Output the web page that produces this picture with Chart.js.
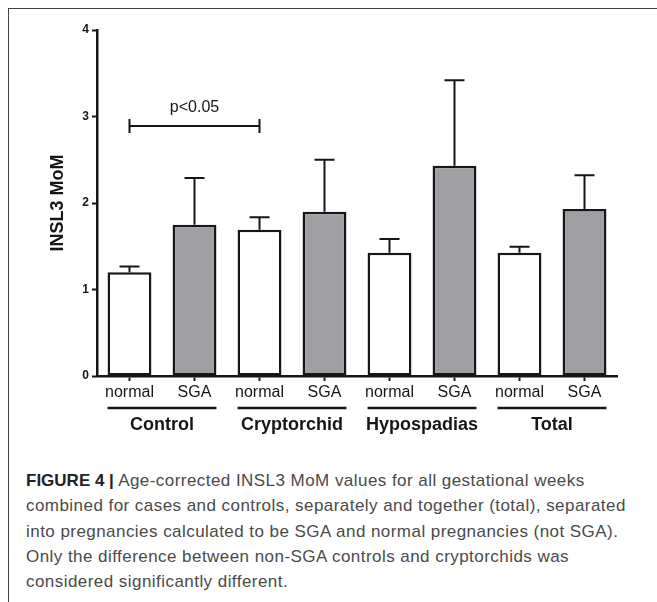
<!DOCTYPE html>
<html>
<head>
<meta charset="utf-8">
<script src="https://cdn.jsdelivr.net/npm/chart.js@4.4.0/dist/chart.umd.min.js"></script>
<style>
  html, body { margin: 0; padding: 0; background: #fff; }
  body { width: 657px; height: 602px; position: relative; overflow: hidden; font-family: "Liberation Sans", Arial, sans-serif; }
  #frameTop { position: absolute; left: 8px; top: 8px; width: 649px; height: 0; border-top: 1.5px solid #444; }
  #frameLeft { position: absolute; left: 8px; top: 8px; width: 0; height: 594px; border-left: 1.5px solid #444; }
  #wrap { position: absolute; left: 0; top: 0; width: 657px; height: 460px; }
  #caption { position: absolute; left: 26px; top: 468px; font-size: 17px; line-height: 25.25px; color: #4a4a4a; white-space: nowrap; letter-spacing: 0.45px; }
  #caption b { color: #222; letter-spacing: 0; }
</style>
</head>
<body>
<div id="frameTop"></div>
<div id="frameLeft"></div>
<div id="wrap"><canvas id="c" width="657" height="460"></canvas></div>
<div id="caption"><b>FIGURE 4 |</b> Age-corrected INSL3 MoM values for all gestational weeks<br>combined for cases and controls, separately and together (total), separated<br>into pregnancies calculated to be SGA and normal pregnancies (not SGA).<br>Only the difference between non-SGA controls and cryptorchids was<br>considered significantly different.</div>
<script>
// ---- data ----
const categories = ['normal', 'SGA', 'normal', 'SGA', 'normal', 'SGA', 'normal', 'SGA'];
const groups = ['Control', 'Cryptorchid', 'Hypospadias', 'Total'];
const means = [1.20, 1.75, 1.69, 1.90, 1.425, 2.43, 1.425, 1.93];
const sem = [0.065, 0.54, 0.145, 0.60, 0.16, 0.99, 0.07, 0.39];
const yTicks = [0, 1, 2, 3, 4];
const yTitle = 'INSL3 MoM';
const sigPair = [0, 2];
const sigLevel = 2.89;
const sigLabel = 'p<0.05';

const FONT = '"Liberation Sans", Arial, sans-serif';
const INK = '#161616';
const GRAY = '#a0a0a4';

const errorBars = {
  id: 'errorBars',
  afterDatasetsDraw(chart) {
    const ctx = chart.ctx, y = chart.scales.y;
    const meta = chart.getDatasetMeta(0);
    ctx.save();
    ctx.strokeStyle = INK;
    ctx.lineWidth = 2;
    meta.data.forEach((bar, i) => {
      const top = y.getPixelForValue(means[i] + sem[i]);
      const base = y.getPixelForValue(means[i]);
      ctx.beginPath();
      ctx.moveTo(bar.x, base);
      ctx.lineTo(bar.x, top);
      ctx.moveTo(bar.x - 10, top);
      ctx.lineTo(bar.x + 10, top);
      ctx.stroke();
    });
    // significance bracket
    const x1 = chart.scales.x.getPixelForValue(sigPair[0]);
    const x2 = chart.scales.x.getPixelForValue(sigPair[1]);
    const yb = y.getPixelForValue(sigLevel);
    ctx.beginPath();
    ctx.moveTo(x1, yb); ctx.lineTo(x2, yb);
    ctx.moveTo(x1, yb - 7); ctx.lineTo(x1, yb + 7);
    ctx.moveTo(x2, yb - 7); ctx.lineTo(x2, yb + 7);
    ctx.stroke();
    ctx.fillStyle = INK;
    ctx.font = '16px ' + FONT;
    ctx.textAlign = 'center';
    ctx.textBaseline = 'alphabetic';
    ctx.fillText(sigLabel, (x1 + x2) / 2, yb - 14);
    ctx.restore();
  }
};

const groupLabels = {
  id: 'groupLabels',
  afterDraw(chart) {
    const ctx = chart.ctx;
    const meta = chart.getDatasetMeta(0);
    ctx.save();
    ctx.strokeStyle = INK;
    ctx.fillStyle = INK;
    ctx.lineWidth = 2.5;
    ctx.font = 'bold 18px ' + FONT;
    ctx.textAlign = 'center';
    ctx.textBaseline = 'alphabetic';
    groups.forEach((g, k) => {
      const b1 = meta.data[2 * k], b2 = meta.data[2 * k + 1];
      const l = b1.x - b1.width / 2, r = b2.x + b2.width / 2;
      ctx.beginPath();
      ctx.moveTo(l, 408);
      ctx.lineTo(r, 408);
      ctx.stroke();
      ctx.fillText(g, (b1.x + b2.x) / 2, 429.5);
    });
    ctx.restore();
  }
};

new Chart(document.getElementById('c'), {
  type: 'bar',
  data: {
    labels: categories,
    datasets: [{
      data: means,
      backgroundColor: categories.map(c => c === 'SGA' ? GRAY : '#ffffff'),
      borderColor: INK,
      borderWidth: 2.5,
      borderSkipped: false,
      barPercentage: 0.675,
      categoryPercentage: 1.0
    }]
  },
  options: {
    responsive: false,
    animation: false,
    devicePixelRatio: 1,
    layout: { padding: { top: 30, right: 40, left: 0, bottom: 0 } },
    plugins: { legend: { display: false }, tooltip: { enabled: false } },
    scales: {
      x: {
        offset: true,
        afterFit(s) { s.height = 84; },
        grid: { offset: false, drawOnChartArea: false, drawTicks: true, tickLength: 5, tickWidth: 2, tickColor: INK },
        border: { display: true, color: INK, width: 2.5 },
        ticks: { color: INK, font: { family: FONT, size: 16 }, padding: 2, maxRotation: 0, autoSkip: false }
      },
      y: {
        min: 0, max: 4,
        afterFit(s) { s.width = 97; },
        afterBuildTicks(s) { s.ticks = yTicks.map(v => ({ value: v })); },
        grid: { drawOnChartArea: false, drawTicks: true, tickLength: 5, tickWidth: 2, tickColor: INK },
        border: { display: true, color: INK, width: 2.5 },
        ticks: { color: INK, font: { family: FONT, size: 12, weight: 'bold' }, padding: 3 },
        title: { display: true, text: yTitle, color: INK, font: { family: FONT, size: 18, weight: 'bold' }, padding: { top: 47, bottom: 0 } }
      }
    }
  },
  plugins: [errorBars, groupLabels]
});
</script>
</body>
</html>
